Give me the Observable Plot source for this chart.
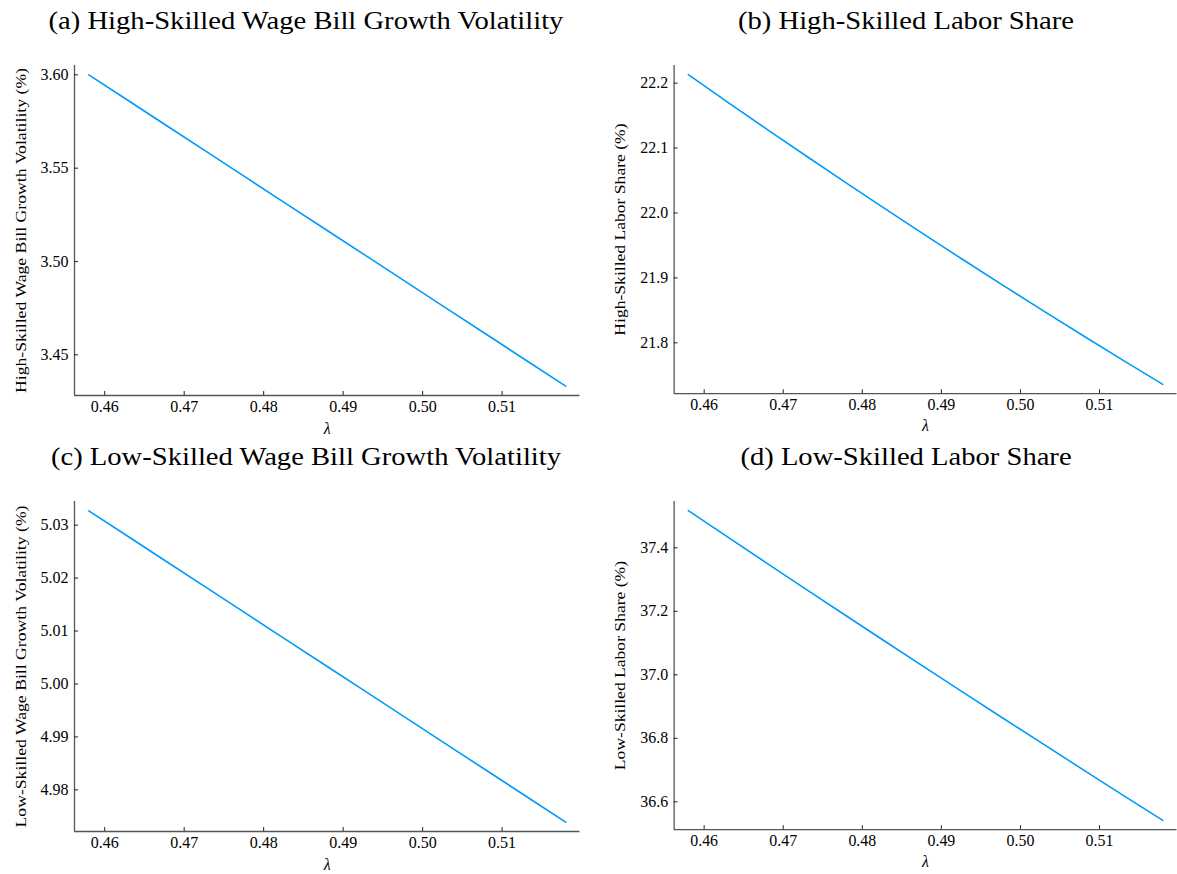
<!DOCTYPE html>
<html>
<head>
<meta charset="utf-8">
<script src="https://cdn.jsdelivr.net/npm/d3@7"></script>
<script src="https://cdn.jsdelivr.net/npm/@observablehq/plot@0.6"></script>
<style>
  html, body { margin: 0; padding: 0; background: #fff; overflow: hidden; }
  #root { position: relative; width: 1177px; height: 874px; overflow: hidden; }
  .title { position: absolute; width: 600px; text-align: center; font-family: "Liberation Serif", serif; font-size: 26px; color: #000; white-space: nowrap; line-height: 1; transform: scaleX(1.1); transform-origin: 50% 50%; }
  .panel { position: absolute; }
  .panel svg { overflow: visible; }
  .panel svg text { font-family: "Liberation Serif", serif !important; }
  .panel [aria-label="y-axis label"] text { font-size: 15.5px; }
  .panel [aria-label="x-axis label"] text { font-size: 16px; font-style: italic; }
</style>
</head>
<body>
<div id="root"></div>
<script>
// λ grid
const lambda = [0.458, 0.463, 0.468, 0.473, 0.478, 0.483, 0.488, 0.493, 0.498, 0.503, 0.508, 0.513, 0.518];

// (a) High-skilled wage bill growth volatility (%)
const highWageVol = [3.6000, 3.5861, 3.5722, 3.5583, 3.5444, 3.5305, 3.5166, 3.5027, 3.4888, 3.4749, 3.4610, 3.4471, 3.4332];
// (b) High-skilled labor share (%)
const highShare = [22.213, 22.1705, 22.1285, 22.087, 22.046, 22.0055, 21.9655, 21.926, 21.887, 21.8485, 21.8105, 21.773, 21.736];
// (c) Low-skilled wage bill growth volatility (%)
const lowWageVol = [5.0327, 5.0278, 5.0229, 5.0180, 5.0131, 5.0082, 5.0033, 4.9984, 4.9935, 4.9886, 4.9837, 4.9788, 4.9739];
// (d) Low-skilled labor share (%)
const lowShare = [37.517, 37.4335, 37.3504, 37.2677, 37.1854, 37.1035, 37.022, 36.9409, 36.8602, 36.7799, 36.7000, 36.6205, 36.5415];

const xTicks = [0.46, 0.47, 0.48, 0.49, 0.50, 0.51];
const ticksA = [3.45, 3.50, 3.55, 3.60];
const ticksB = [21.8, 21.9, 22.0, 22.1, 22.2];
const ticksC = [4.98, 4.99, 5.00, 5.01, 5.02, 5.03];
const ticksD = [36.6, 36.8, 37.0, 37.2, 37.4];

const panels = [
  {title: "(a) High-Skilled Wage Bill Growth Volatility", ylabel: "High-Skilled Wage Bill Growth Volatility (%)", y: highWageVol, ticks: ticksA, fmt: d3.format(".2f"), left: 0, top: 0},
  {title: "(b) High-Skilled Labor Share", ylabel: "High-Skilled Labor Share (%)", y: highShare, ticks: ticksB, fmt: d3.format(".1f"), left: 600, top: 0},
  {title: "(c) Low-Skilled Wage Bill Growth Volatility", ylabel: "Low-Skilled Wage Bill Growth Volatility (%)", y: lowWageVol, ticks: ticksC, fmt: d3.format(".2f"), left: 0, top: 436},
  {title: "(d) Low-Skilled Labor Share", ylabel: "Low-Skilled Labor Share (%)", y: lowShare, ticks: ticksD, fmt: d3.format(".1f"), left: 600, top: 436}
];

function padded(arr) {
  const lo = d3.min(arr), hi = d3.max(arr), p = (hi - lo) * 0.03;
  return [lo - p, hi + p];
}

const root = document.getElementById("root");
const axisColor = "#555";

for (const p of panels) {
  const data = lambda.map((x, i) => ({x, y: p.y[i]}));
  const t = document.createElement("div");
  t.className = "title";
  t.style.left = (p.left + 6) + "px";
  t.style.top = (p.top + 8) + "px";
  t.textContent = p.title;
  root.appendChild(t);

  const xd = padded(lambda), yd = padded(p.y);
  const chart = Plot.plot({
    width: 580,
    height: 395,
    marginLeft: 74,
    marginRight: 0.5,
    marginTop: 20,
    marginBottom: 45,
    style: {fontFamily: "Liberation Serif, serif", fontSize: "16px", color: "#000", background: "transparent"},
    x: {domain: xd},
    y: {domain: yd},
    marks: [
      Plot.ruleY([yd[0]], {stroke: axisColor, strokeWidth: 1.3}),
      Plot.ruleX([xd[0]], {stroke: axisColor, strokeWidth: 1.3}),
      Plot.axisX(xTicks, {stroke: "#222", tickSize: -4, tickPadding: 9, tickFormat: d3.format(".2f"), label: "λ", labelAnchor: "center", labelArrow: "none", labelOffset: 38, fill: "#000"}),
      Plot.axisY(p.ticks, {stroke: "#222", tickSize: -4, tickPadding: 10, tickFormat: p.fmt, label: p.ylabel, labelAnchor: "center", labelArrow: "none", labelOffset: 60, fill: "#000"}),
      Plot.line(data, {x: "x", y: "y", stroke: "#009AFA", strokeWidth: 1.6})
    ]
  });
  const wrap = document.createElement("div");
  wrap.className = "panel";
  wrap.style.left = p.left + "px";
  wrap.style.top = (p.top + 45) + "px";
  wrap.appendChild(chart);
  root.appendChild(wrap);
  // stretch the y label to the reference length (Computer Modern is wider than Times)
  const yl = chart.querySelector('[aria-label="y-axis label"] text');
  if (yl) {
    const len = yl.getComputedTextLength();
    yl.setAttribute("textLength", (len * 1.14).toFixed(1));
    yl.setAttribute("lengthAdjust", "spacingAndGlyphs");
  }
}
</script>
</body>
</html>
